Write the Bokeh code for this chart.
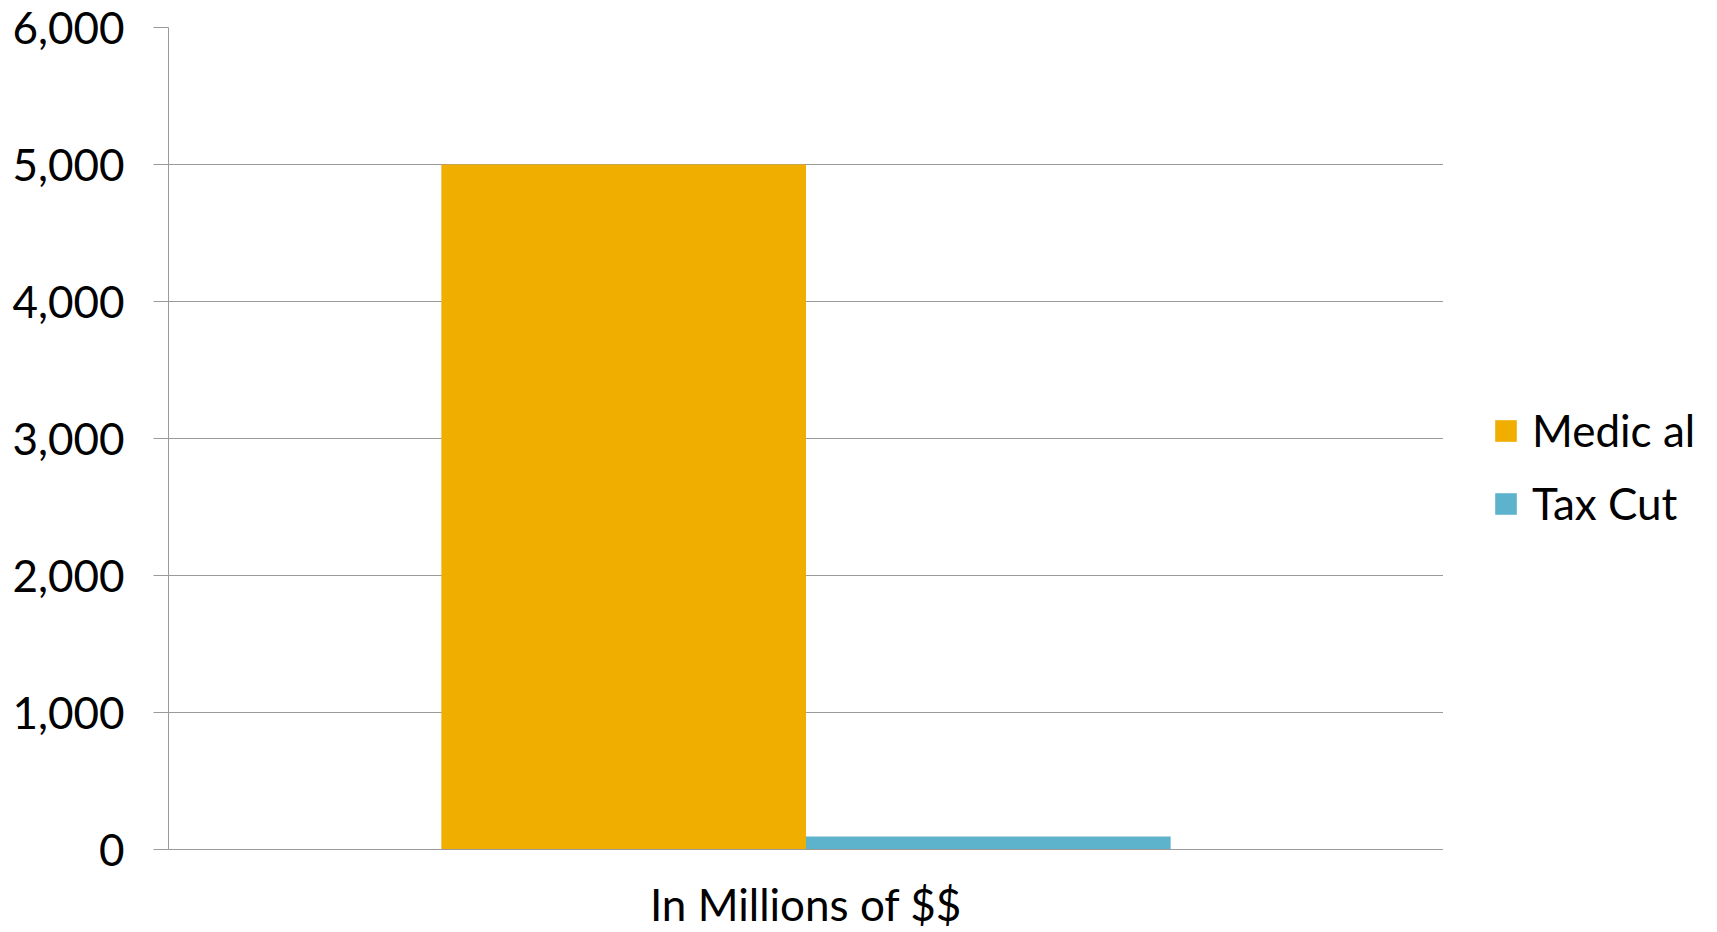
from bokeh.plotting import figure
from bokeh.layouts import row
from bokeh.models import (FactorRange, Range1d, CategoricalAxis, FixedTicker,
                          Legend, LegendItem, NumeralTickFormatter, ColumnDataSource)
from bokeh.transform import dodge
from bokeh.embed import file_html
from bokeh.resources import INLINE

categories = ["In Millions of $$"]
series_names = ["Medic al", "Tax Cut"]
medical = [5000]
tax_cut = [95]
y_ticks = [0, 1000, 2000, 3000, 4000, 5000, 6000]

colors = ["#F0AE00", "#5EB3CC"]
FONT = "Lato"
GRID = "#9A9A9A"

src = ColumnDataSource(dict(cat=categories, medical=medical, tax=tax_cut))

p = figure(width=1443, height=932, output_backend="svg", toolbar_location=None,
           x_range=FactorRange(factors=categories, range_padding=0),
           y_range=Range1d(0, 6000), x_axis_location=None,
           min_border_left=168, min_border_right=0, min_border_top=27, min_border_bottom=83)
p.outline_line_color = None
p.background_fill_color = "white"
p.border_fill_color = "white"

bw = 0.286
p.vbar(x=dodge("cat", -0.143, range=p.x_range), top="medical", width=bw, source=src,
       fill_color=colors[0], line_color=None)
p.vbar(x=dodge("cat", 0.143, range=p.x_range), top="tax", width=bw, source=src,
       fill_color=colors[1], line_color=None)

# y axis
ya = p.yaxis[0]
ya.ticker = FixedTicker(ticks=y_ticks)
ya.formatter = NumeralTickFormatter(format="0,0")
ya.axis_line_color = GRID
ya.major_tick_line_color = GRID
ya.major_tick_out = 15
ya.major_tick_in = 0
ya.minor_tick_line_color = None
ya.major_label_text_font = FONT
ya.major_label_text_font_size = "44px"
ya.major_label_text_color = "black"
ya.major_label_standoff = 29

p.ygrid.ticker = FixedTicker(ticks=y_ticks)
p.ygrid.grid_line_color = GRID
for g in p.xgrid:
    g.visible = False

# category-boundary ticks: a helper factor range whose two factor centres sit on the frame edges
p.extra_x_ranges = {"edge": FactorRange(factors=[" ", "  "], range_padding=-0.5)}
ea = CategoricalAxis(x_range_name="edge")
ea.axis_line_color = GRID
ea.major_tick_line_color = GRID
ea.major_tick_out = 16
ea.major_tick_in = 0
ea.major_label_text_font_size = "0px"
ea.major_label_standoff = 0
p.add_layout(ea, "below")

ca = CategoricalAxis()
ca.axis_line_color = None
ca.major_tick_line_color = None
ca.major_tick_out = 0
ca.major_tick_in = 0
ca.major_label_text_font = FONT
ca.major_label_text_font_size = "44px"
ca.major_label_text_color = "black"
ca.major_label_standoff = 28
p.add_layout(ca, "below")

# legend panel: a second figure to the right; its zero-width bars fall outside its y range
lg = figure(width=274, height=932, output_backend="svg", toolbar_location=None,
            x_range=FactorRange(factors=categories), y_range=Range1d(100000, 200000),
            x_axis_location=None, y_axis_location=None,
            min_border_left=0, min_border_right=0, min_border_top=0, min_border_bottom=0)
lg.outline_line_color = None
lg.grid.visible = False
lg.background_fill_color = "white"
lg.border_fill_color = "white"
l1 = lg.vbar(x=dodge("cat", -0.143, range=lg.x_range), top="medical", width=0, source=src,
             fill_color=colors[0], line_color=None)
l2 = lg.vbar(x=dodge("cat", 0.143, range=lg.x_range), top="tax", width=0, source=src,
             fill_color=colors[1], line_color=None)

legend = Legend(items=[LegendItem(label=series_names[0], renderers=[l1]),
                       LegendItem(label=series_names[1], renderers=[l2])],
                location=(49, 320), padding=0, margin=0, spacing=21,
                glyph_width=27, glyph_height=27, label_height=27, label_standoff=13,
                label_text_font=FONT, label_text_font_size="44px", label_text_color="black",
                border_line_color=None, background_fill_alpha=0)
lg.add_layout(legend, "center")

layout = row(p, lg, spacing=0)
open("out.html", "w").write(file_html(layout, INLINE))
